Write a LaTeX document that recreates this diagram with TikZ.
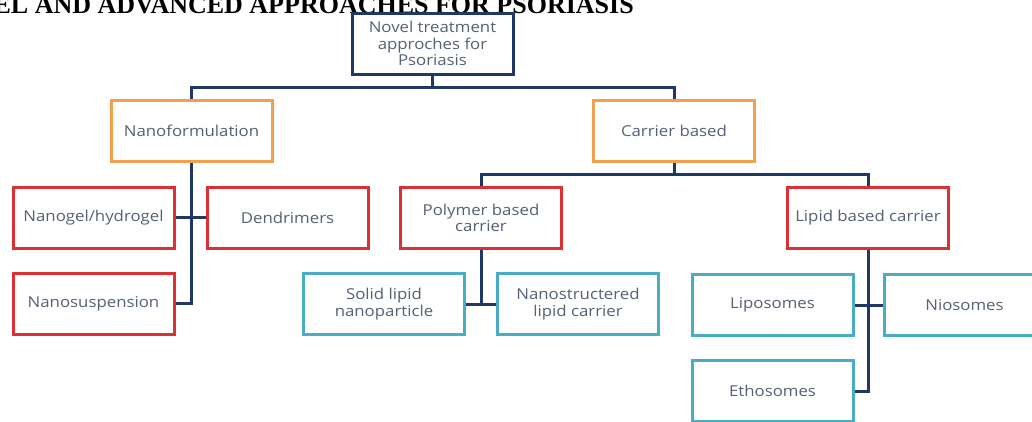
\documentclass[tikz,border=0pt]{standalone}
\usepackage{fontspec}
\setmainfont{Open Sans}[FakeStretch=1.12]
\newfontfamily\titlefont{Liberation Serif}
\definecolor{navy}{HTML}{1F3864}
\definecolor{orangeb}{HTML}{F3A04E}
\definecolor{redb}{HTML}{DC2F36}
\definecolor{tealb}{HTML}{4BACC6}
\definecolor{txt}{HTML}{556174}
\tikzset{
  box/.style={draw, line width=3pt, fill=white, minimum width=161pt, minimum height=61pt,
    inner sep=2pt, align=center, text=txt, font=\fontsize{15}{16.5}\selectfont},
  rootbox/.style={box, draw=navy},
  obox/.style={box, draw=orangeb},
  rbox/.style={box, draw=redb},
  tbox/.style={box, draw=tealb},
  link/.style={draw=navy, line width=3pt}
}
\begin{document}
\begin{tikzpicture}[x=1pt, y=-1pt]
\useasboundingbox (0,0) rectangle (1032,421);
\fill[white] (0,0) rectangle (1032,421);
\clip (0,0) rectangle (1032,421);

\node[anchor=base east, inner sep=0pt, font=\titlefont\bfseries\fontsize{26}{28}\selectfont] (title) at (634,13.5) {NOVEL AND ADVANCED APPROACHES FOR PSORIASIS};

\coordinate (b1) at (432.5,87);
\coordinate (b2) at (674,174);

% connectors first (drawn under boxes)
\node[rootbox] (root) at (432.5,43.5) {Novel treatment\\approches for\\Psoriasis};
\node[obox] (nanof) at (191.5,131) {Nanoformulation};
\node[obox] (carrier) at (674,130.5) {Carrier based};

\node[rbox] (nanogel) at (93.5,217.5) {Nanogel/hydrogel};
\node[rbox] (dendr) at (287.5,217.5) {Dendrimers};
\node[rbox] (nanosusp) at (93.5,303.5) {Nanosuspension};

\node[rbox] (polymer) at (481,218) {Polymer based\\carrier};
\node[rbox] (lipid) at (868,217.5) {Lipid based carrier};

\node[tbox] (sln) at (384,304) {Solid lipid\\nanoparticle};
\node[tbox] (nlc) at (578,304) {Nanostructered\\lipid carrier};

\node[tbox] (lipo) at (772.5,305) {Liposomes};
\node[tbox] (nio) at (964.5,305) {Niosomes};
\node[tbox] (etho) at (772.5,391) {Ethosomes};

\draw[link] (root.south) -- (b1);
\draw[link] (nanof.north) -- (nanof.north |- b1) -- (carrier.north |- b1) -- (carrier.north);

\draw[link] (nanof.south) -- (nanof.south |- nanosusp.east) -- (nanosusp.east);
\draw[link] (nanogel.east) -- (dendr.west);

\draw[link] (carrier.south) -- (b2);
\draw[link] (polymer.north) -- (polymer.north |- b2) -- (lipid.north |- b2) -- (lipid.north);

\draw[link] (polymer.south) -- (polymer.south |- sln.east);
\draw[link] (sln.east) -- (nlc.west);

\draw[link] (lipid.south) -- (lipid.south |- etho.east) -- (etho.east);
\draw[link] (lipo.east) -- (nio.west);
\end{tikzpicture}
\end{document}
